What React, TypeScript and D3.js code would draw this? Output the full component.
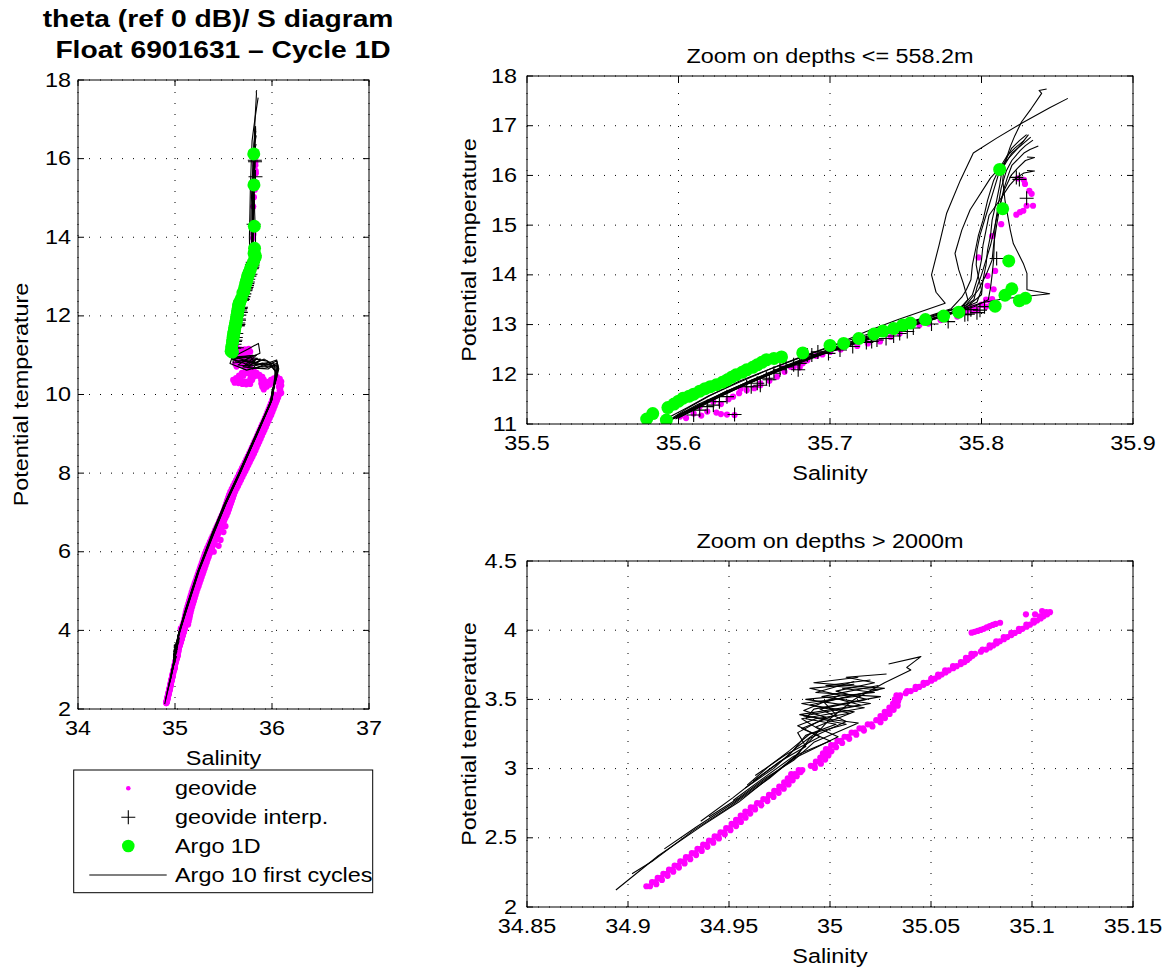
import React from 'react';
import * as d3 from 'd3';

type P = [number, number]; // [salinity, potential temperature]

// ---------- Argo 1D (green) ----------
const argo1D: P[] = [
  [35.579,11.10],[35.583,11.21],[35.592,11.08],[35.593,11.33],[35.597,11.40],[35.600,11.46],[35.603,11.52],[35.607,11.56],
  [35.610,11.60],[35.614,11.66],[35.6175,11.71],[35.621,11.75],[35.625,11.79],[35.629,11.84],[35.632,11.885],[35.635,11.94],
  [35.638,11.99],[35.642,12.04],[35.645,12.09],[35.649,12.14],[35.652,12.19],[35.655,12.24],[35.658,12.29],[35.663,12.32],
  [35.668,12.35],[35.682,12.43],[35.700,12.58],[35.709,12.62],[35.719,12.72],[35.729,12.81],[35.735,12.87],[35.742,12.92],
  [35.748,12.99],[35.753,13.03],[35.763,13.10],[35.775,13.17],[35.785,13.25],[35.809,13.37],[35.8155,13.59],[35.820,13.72],
  [35.825,13.48],[35.829,13.53],[35.818,14.28],[35.814,15.33],[35.812,16.12]
];

// ---------- geovide (magenta) ----------
const geovideShallow: P[] = [
  [35.601,11.15],[35.605,11.12],[35.610,11.21],[35.615,11.17],[35.619,11.25],[35.625,11.23],[35.628,11.20],[35.632,11.19],
  [35.637,11.18],[35.614,11.35],[35.623,11.45],[35.628,11.40],[35.633,11.50],[35.636,11.55],[35.640,11.62],[35.641,11.71],
  [35.645,11.68],[35.650,11.72],[35.654,11.78],[35.654,11.82],[35.660,11.87],[35.665,11.95],[35.670,12.05],[35.669,12.12],
  [35.674,12.15],[35.676,12.15],[35.680,12.14],[35.682,12.22],[35.685,12.28],[35.691,12.37],[35.695,12.40],[35.700,12.45],
  [35.707,12.50],[35.718,12.57],[35.725,12.62],[35.733,12.66],[35.740,12.75],[35.746,12.82],[35.759,12.99],[35.765,13.02],
  [35.773,13.09],[35.784,13.16],[35.790,13.25],[35.789,13.30],[35.792,13.31],[35.795,13.28],[35.795,13.34],[35.797,13.29],
  [35.800,13.40],[35.803,13.36],[35.806,13.45],[35.810,13.40],[35.803,13.50],[35.807,13.51],[35.808,13.71],[35.804,13.78],
  [35.804,13.98],[35.809,14.08],[35.798,14.35],[35.807,14.78],[35.813,15.02],[35.823,15.21],[35.8254,15.26],[35.8276,15.29],
  [35.8298,15.39],[35.834,15.39],[35.8331,15.63],[35.8316,15.69],[35.8287,15.83],[35.828,15.91],[35.824,15.94]
];

const geovideZigzagA: P[] = [
  [35.60,11.12],[35.64,11.13],[35.68,11.14],[35.72,11.15],[35.76,11.16],[35.73,11.06],[35.69,10.99],[35.66,10.92],
  [35.64,10.84],[35.62,10.78],[35.67,10.82],[35.71,10.85],[35.76,10.88],[35.78,10.93],[35.76,10.78],[35.74,10.70],
  [35.73,10.62],[35.69,10.55],[35.66,10.48],[35.63,10.42],[35.60,10.37],[35.64,10.36],[35.68,10.34],[35.72,10.33],
  [35.76,10.34],[35.78,10.44],[35.80,10.53],[35.81,10.62],[35.84,10.55],[35.87,10.50],[35.90,10.45],[35.89,10.36],
  [35.89,10.28],[35.90,10.20],[35.93,10.27],[35.96,10.32],[35.99,10.37],[36.02,10.41],[36.05,10.45],[36.08,10.40],
  [36.08,10.30],[36.07,10.20],[36.08,10.11]
];
const geovideZigzagB: P[] = [
  [35.615,11.05],[35.655,11.06],[35.695,11.07],[35.735,11.08],[35.775,11.09],[35.745,10.99],[35.705,10.92],[35.675,10.85],
  [35.655,10.77],[35.635,10.71],[35.685,10.75],[35.725,10.78],[35.775,10.81],[35.795,10.86],[35.775,10.71],[35.755,10.63],
  [35.745,10.55],[35.705,10.48],[35.675,10.41],[35.645,10.35],[35.615,10.30],[35.655,10.29],[35.695,10.27],[35.735,10.26],
  [35.775,10.27],[35.795,10.37],[35.815,10.46],[35.825,10.55],[35.855,10.48],[35.885,10.43],[35.915,10.38],[35.905,10.29],
  [35.905,10.21],[35.915,10.13],[35.945,10.20],[35.975,10.25],[36.005,10.30],[36.035,10.34],[36.065,10.38],[36.095,10.33],
  [36.095,10.23],[36.085,10.13],[36.095,10.04]
];

const geovideBandLeft: P[] = [
  [35.085,4.15],[35.098,4.30],[35.111,4.45],[35.127,4.60],[35.145,4.75],[35.163,4.90],[35.182,5.05],[35.203,5.20],
  [35.224,5.35],[35.245,5.50],[35.266,5.65],[35.287,5.80],[35.308,5.95],[35.333,6.10],[35.360,6.25],[35.387,6.40],
  [35.414,6.55],[35.441,6.70],[35.468,6.85],[35.495,7.00],[35.516,7.15],[35.537,7.30],[35.558,7.45],[35.585,7.60],
  [35.615,7.75],[35.645,7.90],[35.675,8.05],[35.705,8.20],[35.735,8.35],[35.765,8.50],[35.792,8.65],[35.819,8.80],
  [35.846,8.95],[35.873,9.10],[35.900,9.25],[35.927,9.40],[35.953,9.55],[35.977,9.70],[36.001,9.85],[36.025,10.00]
];
const geovideBandLeft2: P[] = [
  [35.091,4.225],[35.104,4.375],[35.118,4.525],[35.136,4.675],[35.154,4.825],[35.172,4.975],[35.193,5.125],[35.214,5.275],
  [35.235,5.425],[35.256,5.575],[35.277,5.725],[35.298,5.875],[35.320,6.025],[35.347,6.175],[35.374,6.325],[35.401,6.475],
  [35.428,6.625],[35.455,6.775],[35.482,6.925],[35.506,7.075],[35.527,7.225],[35.548,7.375],[35.570,7.525],[35.600,7.675],
  [35.630,7.825],[35.660,7.975],[35.690,8.125],[35.720,8.275],[35.750,8.425],[35.779,8.575],[35.806,8.725],[35.833,8.875],
  [35.860,9.025],[35.887,9.175],[35.914,9.325],[35.941,9.475],[35.965,9.625],[35.989,9.775],[36.013,9.925]
];
const geovideBandRight: P[] = [
  [35.141,4.225],[35.154,4.375],[35.168,4.525],[35.186,4.675],[35.204,4.825],[35.222,4.975],[35.243,5.125],[35.264,5.275],
  [35.285,5.425],[35.306,5.575],[35.327,5.725],[35.348,5.875],[35.370,6.025],[35.397,6.175],[35.424,6.325],[35.451,6.475],
  [35.478,6.625],[35.505,6.775],[35.532,6.925],[35.556,7.075],[35.577,7.225],[35.598,7.375],[35.620,7.525],[35.650,7.675],
  [35.680,7.825],[35.710,7.975],[35.740,8.125],[35.770,8.275],[35.800,8.425],[35.829,8.575],[35.856,8.725],[35.883,8.875],
  [35.910,9.025],[35.937,9.175],[35.964,9.325],[35.991,9.475],[36.015,9.625],[36.039,9.775],[36.063,9.925],[36.080,10.07]
];
const geovideBandRight2: P[] = [
  [35.135,4.15],[35.148,4.30],[35.161,4.45],[35.177,4.60],[35.195,4.75],[35.213,4.90],[35.232,5.05],[35.253,5.20],
  [35.274,5.35],[35.295,5.50],[35.316,5.65],[35.337,5.80],[35.358,5.95],[35.383,6.10],[35.410,6.25],[35.437,6.40],
  [35.464,6.55],[35.491,6.70],[35.518,6.85],[35.545,7.00],[35.566,7.15],[35.587,7.30],[35.608,7.45],[35.635,7.60],
  [35.665,7.75],[35.695,7.90],[35.725,8.05],[35.755,8.20],[35.785,8.35],[35.815,8.50],[35.842,8.65],[35.869,8.80],
  [35.896,8.95],[35.923,9.10],[35.950,9.25],[35.977,9.40],[36.003,9.55],[36.027,9.70],[36.051,9.85],[36.075,10.00]
];
const geovideBandExtra: P[] = [
  [35.400,6.00],[35.450,6.15],[35.470,6.30],[35.500,6.50],[35.520,6.65],[35.490,6.72],
  [35.070,3.95],[35.060,4.05],[35.080,4.15],[35.100,4.22],[35.120,4.25]
];

const geovideDeepA: P[] = [
  [34.9091,2.15],[34.9119,2.18],[34.9147,2.21],[34.9175,2.24],[34.9203,2.27],[34.9231,2.30],[34.9259,2.33],[34.9287,2.36],
  [34.9316,2.39],[34.9344,2.42],[34.9372,2.45],[34.9401,2.48],[34.9429,2.51],[34.9458,2.54],[34.9486,2.57],[34.9513,2.60],
  [34.9535,2.63],[34.9558,2.66],[34.9581,2.69],[34.9608,2.72],[34.9639,2.75],[34.9670,2.78],[34.9698,2.81],[34.9724,2.84],
  [34.9749,2.87],[34.9773,2.90],[34.9791,2.93],[34.9808,2.96],[34.9845,2.99],[34.9905,3.02],[34.9930,3.05],[34.9952,3.08],
  [34.9965,3.11],[34.9980,3.14],[35.0006,3.17],[35.0037,3.20],[35.0072,3.23],[35.0107,3.26],[35.0146,3.29],[35.0187,3.32],
  [35.0229,3.35],[35.0250,3.38],[35.0271,3.41],[35.0294,3.44],[35.0312,3.47],[35.0321,3.50],[35.0329,3.53],[35.0382,3.56],
  [35.0424,3.59],[35.0463,3.62],[35.0501,3.65],[35.0535,3.68],[35.0570,3.71],[35.0609,3.74],[35.0648,3.77],[35.0673,3.80],
  [35.0700,3.83],[35.0755,3.86],[35.0790,3.89],[35.0823,3.92],[35.0860,3.95],[35.0897,3.98],[35.0935,4.01],[35.0972,4.04],
  [35.1007,4.07],[35.1039,4.10],[35.1071,4.13]
];
const geovideDeepD: P[] = [
  [34.9109,2.15],[34.9137,2.18],[34.9165,2.21],[34.9193,2.24],[34.9221,2.27],[34.9249,2.30],[34.9277,2.33],[34.9305,2.36],
  [34.9334,2.39],[34.9362,2.42],[34.9390,2.45],[34.9419,2.48],[34.9447,2.51],[34.9476,2.54],[34.9504,2.57],[34.9531,2.60],
  [34.9553,2.63],[34.9576,2.66],[34.9599,2.69],[34.9626,2.72],[34.9657,2.75],[34.9688,2.78],[34.9716,2.81],[34.9742,2.84],
  [34.9767,2.87],[34.9791,2.90],[34.9809,2.93],[34.9826,2.96],[34.9863,2.99],[34.9923,3.02],[34.9948,3.05],[34.9970,3.08],
  [34.9983,3.11],[34.9998,3.14],[35.0024,3.17],[35.0055,3.20],[35.0090,3.23],[35.0125,3.26],[35.0164,3.29],[35.0205,3.32],
  [35.0247,3.35],[35.0268,3.38],[35.0289,3.41],[35.0312,3.44],[35.0330,3.47],[35.0339,3.50],[35.0347,3.53],[35.0400,3.56],
  [35.0442,3.59],[35.0481,3.62],[35.0519,3.65],[35.0553,3.68],[35.0588,3.71],[35.0627,3.74],[35.0666,3.77],[35.0691,3.80],
  [35.0718,3.83],[35.0773,3.86],[35.0808,3.89],[35.0841,3.92],[35.0878,3.95],[35.0915,3.98],[35.0953,4.01],[35.0990,4.04],
  [35.1025,4.07],[35.1057,4.10],[35.1089,4.13]
];
const geovideDeepB: P[] = [
  [34.9140,2.165],[34.9168,2.195],[34.9196,2.225],[34.9224,2.255],[34.9252,2.285],[34.9280,2.315],[34.9308,2.345],[34.9337,2.375],
  [34.9365,2.405],[34.9393,2.435],[34.9422,2.465],[34.9450,2.495],[34.9479,2.525],[34.9507,2.555],[34.9535,2.585],[34.9559,2.615],
  [34.9582,2.645],[34.9605,2.675],[34.9629,2.705],[34.9660,2.735],[34.9690,2.765],[34.9720,2.795],[34.9746,2.825],[34.9771,2.855],
  [34.9795,2.885],[34.9815,2.915],[34.9835,2.945],[34.9855,2.975],[34.9925,3.005],[34.9955,3.035],[34.9976,3.065],[34.9992,3.095],
  [35.0007,3.125],[35.0030,3.155],[35.0060,3.185],[35.0095,3.215],[35.0130,3.245],[35.0168,3.275],[35.0210,3.305],[35.0250,3.335],
  [35.0272,3.365],[35.0295,3.395],[35.0315,3.425],[35.0335,3.455]
];
const geovideDeepC: P[] = [
  [35.0337,3.485],[35.0345,3.515],[35.0375,3.545],[35.0423,3.575],[35.0463,3.605],[35.0502,3.635],[35.0538,3.665],[35.0572,3.695],
  [35.0610,3.725],[35.0648,3.755],[35.0680,3.785],[35.0706,3.815],[35.0747,3.845],[35.0792,3.875],[35.0826,3.905],[35.0861,3.935],
  [35.0898,3.965],[35.0936,3.995],[35.0973,4.025],[35.1010,4.055],[35.1043,4.085],[35.1075,4.115]
];
const geovideDeepFragments: P[] = [
  [35.0701,3.982],[35.0716,3.988],[35.0731,3.995],[35.0746,4.002],[35.0761,4.010],[35.0776,4.020],[35.0791,4.030],
  [35.0806,4.038],[35.0820,4.045],[35.0842,4.054],[35.0970,4.115],[35.1015,4.115],[35.1050,4.138]
];

// ---------- geovide interp. (black +) ----------
const geovideInterp: P[] = [
  [35.610,11.18],[35.614,11.28],[35.619,11.35],[35.623,11.38],[35.627,11.45],[35.632,11.55],[35.637,11.19],[35.645,11.75],
  [35.648,11.75],[35.652,11.82],[35.654,11.78],[35.658,11.92],[35.660,11.89],[35.663,12.02],[35.667,12.09],[35.671,12.15],
  [35.676,12.19],[35.679,12.09],[35.680,12.22],[35.685,12.39],[35.688,12.39],[35.692,12.45],[35.699,12.42],[35.7066,12.49],
  [35.715,12.56],[35.724,12.64],[35.7275,12.66],[35.731,12.69],[35.737,12.72],[35.742,12.77],[35.746,12.82],[35.751,12.86],
  [35.755,12.93],[35.767,13.01],[35.778,13.06],[35.789,13.20],[35.791,13.21],[35.793,13.30],[35.797,13.24],[35.799,13.29],
  [35.802,13.36],[35.810,14.33],[35.8298,15.54],[35.823,15.96],[35.825,15.92]
];

// ---------- Argo 10 first cycles (black lines) ----------
const cycleShallow: P[][] = [
  [[35.857,17.55],[35.845,17.36],[35.8265,17.05],[35.81,16.75],[35.7946,16.45],[35.786,15.9],[35.777,15.24],[35.772,14.6],[35.767,14.0],[35.770,13.65],[35.776,13.43],[35.745,13.1],[35.724,12.86],[35.70,12.55],[35.68,12.33],[35.66,12.1],[35.64,11.86],[35.62,11.56],[35.605,11.3],[35.596,11.12]],
  [[35.843,17.74],[35.838,17.71],[35.8397,17.65],[35.833,17.35],[35.8265,17.08],[35.822,16.8],[35.819,16.58],[35.816,16.3],[35.8135,16.1],[35.812,15.8],[35.81,15.5],[35.807,15.1],[35.806,14.8],[35.804,14.5],[35.803,14.2],[35.801,13.9],[35.80,13.6],[35.79,13.35],[35.77,13.12],[35.75,12.94],[35.73,12.76],[35.71,12.55],[35.69,12.36],[35.67,12.13],[35.65,11.9],[35.63,11.64],[35.615,11.4],[35.60,11.18]],
  [[35.831,16.82],[35.826,16.62],[35.8225,16.5],[35.815,16.25],[35.806,15.95],[35.7925,15.31],[35.787,14.9],[35.7825,14.43],[35.785,14.1],[35.788,13.83],[35.791,13.5],[35.785,13.3],[35.765,13.08],[35.745,12.9],[35.725,12.72],[35.705,12.52],[35.685,12.32],[35.665,12.08],[35.645,11.82],[35.625,11.55],[35.61,11.3],[35.598,11.1]],
  [[35.8325,16.77],[35.826,16.6],[35.82,16.45],[35.815,16.2],[35.814,15.9],[35.8155,15.5],[35.819,14.9],[35.821,14.63],[35.8276,14.23],[35.830,14.03],[35.830,13.70],[35.845,13.62],[35.815,13.52],[35.80,13.44],[35.78,13.22],[35.76,13.04],[35.74,12.86],[35.72,12.67],[35.70,12.47],[35.68,12.25],[35.66,12.0],[35.64,11.75],[35.62,11.48],[35.605,11.25],[35.595,11.08]],
  [[35.834,16.71],[35.829,16.6],[35.8255,16.5],[35.82,16.3],[35.8165,16.1],[35.813,15.75],[35.811,15.4],[35.809,15.0],[35.8085,14.7],[35.808,14.3],[35.807,14.0],[35.806,13.75],[35.8045,13.5],[35.795,13.36],[35.775,13.17],[35.755,12.98],[35.735,12.79],[35.715,12.6],[35.695,12.4],[35.675,12.17],[35.655,11.93],[35.635,11.67],[35.618,11.42],[35.603,11.18]],
  [[35.8375,16.59],[35.832,16.52],[35.828,16.45],[35.82,16.2],[35.817,15.95],[35.8145,15.7],[35.812,15.35],[35.81,15.0],[35.808,14.6],[35.807,14.3],[35.803,14.0],[35.798,13.7],[35.79,13.4],[35.772,13.2],[35.752,13.0],[35.732,12.82],[35.712,12.62],[35.692,12.41],[35.672,12.18],[35.652,11.93],[35.632,11.66],[35.612,11.38],[35.598,11.15]],
  [[35.830,16.37],[35.835,16.36],[35.829,16.3],[35.824,16.15],[35.8195,16.0],[35.815,15.7],[35.812,15.4],[35.809,15.0],[35.806,14.6],[35.803,14.3],[35.800,14.0],[35.797,13.75],[35.795,13.5],[35.785,13.28],[35.765,13.1],[35.745,12.92],[35.725,12.73],[35.705,12.53],[35.685,12.3],[35.665,12.05],[35.645,11.8],[35.628,11.56],[35.613,11.32],[35.6,11.12]],
  [[35.830,16.1],[35.835,16.09],[35.828,16.05],[35.823,15.95],[35.8185,15.8],[35.812,15.5],[35.805,15.2],[35.803,14.9],[35.801,14.6],[35.8,14.3],[35.798,14.0],[35.796,13.8],[35.794,13.6],[35.788,13.38],[35.768,13.18],[35.748,12.99],[35.728,12.8],[35.708,12.6],[35.688,12.38],[35.668,12.14],[35.648,11.88],[35.628,11.6],[35.612,11.34],[35.597,11.12]],
  [[35.8298,16.82],[35.825,16.7],[35.82,16.55],[35.815,16.25],[35.811,16.0],[35.807,15.6],[35.804,15.3],[35.799,14.8],[35.797,14.5],[35.7965,14.2],[35.798,13.95],[35.8,13.7],[35.797,13.45],[35.782,13.26],[35.762,13.07],[35.742,12.88],[35.722,12.7],[35.702,12.49],[35.682,12.27],[35.662,12.02],[35.642,11.76],[35.622,11.48],[35.607,11.24],[35.593,11.06]],
  [[35.828,16.7],[35.822,16.55],[35.817,16.4],[35.812,16.15],[35.808,15.9],[35.804,15.5],[35.801,15.1],[35.798,14.8],[35.796,14.5],[35.794,14.2],[35.793,13.9],[35.79,13.7],[35.787,13.55],[35.78,13.32],[35.76,13.12],[35.74,12.94],[35.72,12.76],[35.70,12.56],[35.68,12.34],[35.66,12.1],[35.64,11.84],[35.62,11.57],[35.606,11.33],[35.594,11.14]]
];

const cycleZigzag: P[][] = [
  [[35.60,10.96],[35.75,11.15],[35.86,11.30],[35.876,11.05],[35.70,10.85],[35.82,10.78],[35.95,10.75],[36.05,10.85],[36.07,10.65],[36.04,10.35],[36.01,10.1]],
  [[35.62,10.92],[35.80,11.0],[35.65,10.75],[35.78,10.72],[35.90,10.80],[36.04,10.7],[36.05,10.45],[36.02,10.2]],
  [[35.58,10.88],[35.567,10.79],[35.739,10.62],[35.86,10.7],[35.945,10.79],[36.048,10.88],[36.065,10.67],[36.04,10.4],[36.013,10.11]],
  [[35.63,10.95],[35.85,10.92],[35.72,10.72],[35.88,10.78],[35.98,10.82],[36.03,10.6],[36.03,10.3],[36.0,10.05]],
  [[35.61,10.9],[35.78,10.96],[35.84,10.74],[35.90,10.7],[36.06,10.75],[36.04,10.45],[36.02,10.2]],
  [[35.60,10.8],[35.83,10.86],[35.75,10.68],[35.92,10.66],[35.99,10.72],[36.05,10.55],[36.03,10.3],[36.0,10.1]],
  [[35.62,10.85],[35.88,10.9],[35.80,10.65],[35.93,10.74],[36.02,10.8],[36.04,10.5],[36.03,10.3]],
  [[35.61,10.95],[35.82,10.8],[35.88,10.88],[35.95,10.85],[36.04,10.6],[36.02,10.3],[36.0,10.0]],
  [[35.59,10.9],[35.76,10.75],[35.85,10.82],[35.92,10.9],[36.06,10.7],[36.04,10.4],[36.01,10.15]],
  [[35.60,10.95],[35.84,11.0],[35.70,10.7],[35.87,10.66],[35.96,10.65],[36.05,10.8],[36.05,10.5],[36.02,10.2]]
];

const cycleMid: P[][] = [
  [[35.99,9.8],[35.86,9.05],[35.67,8.0],[35.52,7.2],[35.40,6.5],[35.25,5.55],[35.12,4.55],[35.045,3.95]],
  [[36.0,9.9],[35.84,9.0],[35.66,7.98],[35.51,7.2],[35.39,6.48],[35.24,5.5],[35.11,4.5],[35.04,3.9]],
  [[35.99,9.85],[35.85,9.02],[35.68,8.04],[35.53,7.25],[35.41,6.52],[35.25,5.52],[35.12,4.52],[35.035,3.88]],
  [[35.98,9.75],[35.83,8.96],[35.65,7.96],[35.50,7.17],[35.38,6.45],[35.23,5.47],[35.10,4.47],[35.03,3.85]],
  [[36.0,9.88],[35.85,9.03],[35.67,8.02],[35.52,7.22],[35.40,6.5],[35.24,5.5],[35.115,4.52],[35.04,3.92]],
  [[35.99,9.82],[35.84,9.0],[35.66,8.0],[35.51,7.19],[35.39,6.47],[35.235,5.48],[35.105,4.48],[35.035,3.9]],
  [[36.0,9.86],[35.855,9.04],[35.675,8.03],[35.525,7.23],[35.405,6.51],[35.245,5.51],[35.115,4.5],[35.04,3.87]],
  [[35.98,9.78],[35.835,8.98],[35.655,7.97],[35.505,7.18],[35.385,6.46],[35.235,5.49],[35.105,4.49],[35.03,3.86]],
  [[35.99,9.84],[35.845,9.01],[35.665,8.01],[35.515,7.21],[35.395,6.49],[35.245,5.53],[35.11,4.51],[35.035,3.89]],
  [[36.0,9.87],[35.85,9.02],[35.67,8.02],[35.52,7.21],[35.4,6.5],[35.24,5.51],[35.11,4.5],[35.04,3.91]]
];

const cycleDeep: P[][] = [
  [[35.029,3.756],[35.045,3.809],[35.038,3.731],[35.040,3.712],[35.027,3.62],[35.012,3.50],[35.0,3.36],[34.99,3.2],[34.982,3.08],[34.972,2.96],[34.955,2.76],[34.937,2.59],[34.915,2.37],[34.894,2.123]],
  [[35.028,3.684],[35.008,3.66],[35.022,3.62],[35.003,3.56],[35.018,3.50],[34.995,3.43],[35.008,3.34],[34.99,3.22],[34.984,3.10],[34.97,2.93],[34.95,2.72],[34.932,2.55],[34.912,2.33],[34.902,2.24]],
  [[35.02,3.64],[34.998,3.60],[35.024,3.57],[34.99,3.46],[35.012,3.41],[34.993,3.30],[35.004,3.23],[34.983,3.08],[34.968,2.92],[34.953,2.76],[34.934,2.58],[34.918,2.42]],
  [[35.012,3.63],[34.993,3.55],[35.025,3.52],[34.992,3.43],[34.988,3.36],[35.003,3.32],[34.988,3.24],[34.98,3.10],[34.966,2.95],[34.952,2.79],[34.936,2.62]],
  [[35.024,3.60],[34.996,3.52],[35.02,3.47],[34.987,3.38],[35.014,3.33],[34.992,3.19],[34.982,3.06],[34.968,2.93],[34.955,2.79],[34.94,2.65]],
  [[35.014,3.66],[34.992,3.62],[35.027,3.58],[34.997,3.48],[35.003,3.39],[34.986,3.29],[35.0,3.20],[34.982,3.09],[34.966,2.92],[34.952,2.77]],
  [[35.006,3.58],[35.022,3.55],[34.988,3.50],[35.017,3.44],[34.986,3.36],[34.995,3.28],[34.984,3.16],[34.972,3.0],[34.958,2.86]],
  [[35.017,3.53],[34.986,3.47],[35.01,3.40],[34.993,3.36],[34.984,3.31],[34.995,3.23],[34.978,3.10],[34.963,2.95]],
  [[35.002,3.51],[35.015,3.46],[34.985,3.39],[35.008,3.32],[34.99,3.25],[34.98,3.13],[34.97,3.02],[34.959,2.88]],
  [[35.012,3.61],[34.99,3.58],[35.005,3.53],[34.987,3.42],[34.998,3.37],[34.984,3.26],[34.988,3.16],[34.975,3.05],[34.962,2.91]]
];

// ---------- axes ticks ----------
const leftXTicks = [34, 35, 36, 37];
const leftYTicks = [2, 4, 6, 8, 10, 12, 14, 16, 18];
const topXTicks = [35.5, 35.6, 35.7, 35.8, 35.9];
const topYTicks = [11, 12, 13, 14, 15, 16, 17, 18];
const botXTicks = [34.85, 34.9, 34.95, 35, 35.05, 35.1, 35.15];
const botYTicks = [2, 2.5, 3, 3.5, 4, 4.5];

const legendLabels = ['geovide', 'geovide interp.', 'Argo 1D', 'Argo 10 first cycles'];

const FONT = "'Liberation Sans', Arial, Helvetica, sans-serif";
const MAGENTA = '#ff00ff';
const GREEN = '#00ff00';
const MAG_R = 3.1;

function T(props: { x: number; y: number; s?: number; a?: string; w?: string; r?: number; children: React.ReactNode }) {
  const { x, y, s = 19.5, a = 'middle', w = 'normal', r = 0, children } = props;
  const tr = `translate(${x},${y})` + (r ? ` rotate(${r})` : '') + ' scale(1.2,1)';
  return (
    <text transform={tr} fontSize={s} textAnchor={a as any} fontWeight={w} fontFamily={FONT} fill="#000">
      {children}
    </text>
  );
}

const fmt = (v: number) => String(+v.toFixed(3));

type Scales = { x: d3.ScaleLinear<number, number>; y: d3.ScaleLinear<number, number> };

function Dots({ data, sc, r, fill }: { data: P[]; sc: Scales; r: number; fill: string }) {
  return (
    <g>
      {data.map((d, i) => (
        <circle key={i} cx={sc.x(d[0])} cy={sc.y(d[1])} r={r} fill={fill} />
      ))}
    </g>
  );
}

function Crosses({ data, sc }: { data: P[]; sc: Scales }) {
  const h = 7;
  return (
    <g stroke="#000" strokeWidth={1.1}>
      {data.map((d, i) => {
        const cx = sc.x(d[0]);
        const cy = sc.y(d[1]);
        return <path key={i} d={`M${cx - h},${cy}H${cx + h}M${cx},${cy - h}V${cy + h}`} fill="none" />;
      })}
    </g>
  );
}

function Lines({ data, sc }: { data: P[][]; sc: Scales }) {
  const line = d3.line<P>().x((d) => sc.x(d[0])).y((d) => sc.y(d[1]));
  return (
    <g fill="none" stroke="#000" strokeWidth={1.1} strokeLinejoin="round">
      {data.map((c, i) => (
        <path key={i} d={line(c) || ''} />
      ))}
    </g>
  );
}

function Panel(props: {
  id: string;
  x0: number; x1: number; y0: number; y1: number;
  xd: [number, number]; yd: [number, number];
  xt: number[]; yt: number[];
  title?: string;
  ylabGap: number;
  ylabX: number;
  render: (sc: Scales) => React.ReactNode;
}) {
  const { id, x0, x1, y0, y1, xd, yd, xt, yt, title, render, ylabGap, ylabX } = props;
  const x = d3.scaleLinear().domain(xd).range([x0, x1]);
  const y = d3.scaleLinear().domain(yd).range([y1, y0]);
  const sc = { x, y };
  const tl = 6;
  return (
    <g>
      <defs>
        <clipPath id={id}>
          <rect x={x0} y={y0} width={x1 - x0} height={y1 - y0} />
        </clipPath>
      </defs>
      <rect x={x0} y={y0} width={x1 - x0} height={y1 - y0} fill="#fff" />
      <g stroke="#000" strokeWidth={1} strokeDasharray="1,10">
        {xt.map((t, i) => (
          <line key={'gx' + i} x1={x(t)} x2={x(t)} y1={y1} y2={y0} />
        ))}
        {yt.map((t, i) => (
          <line key={'gy' + i} x1={x0} x2={x1} y1={y(t)} y2={y(t)} />
        ))}
      </g>
      <g clipPath={`url(#${id})`}>{render(sc)}</g>
      <rect x={x0} y={y0} width={x1 - x0} height={y1 - y0} fill="none" stroke="#000" strokeWidth={1} />
      <g stroke="#000" strokeWidth={1}>
        {xt.map((t, i) => (
          <path key={'tx' + i} d={`M${x(t)},${y1}V${y1 - tl}M${x(t)},${y0}V${y0 + tl}`} />
        ))}
        {yt.map((t, i) => (
          <path key={'ty' + i} d={`M${x0},${y(t)}H${x0 + tl}M${x1},${y(t)}H${x1 - tl}`} />
        ))}
      </g>
      {xt.map((t, i) => (
        <T key={'lx' + i} x={x(t)} y={y1 + 26}>{fmt(t)}</T>
      ))}
      {yt.map((t, i) => (
        <T key={'ly' + i} x={x0 - ylabGap} y={y(t) + 6.5} a="end">{fmt(t)}</T>
      ))}
      <T x={(x0 + x1) / 2} y={y1 + 56}>Salinity</T>
      <T x={ylabX} y={(y0 + y1) / 2} r={-90}>Potential temperature</T>
      {title ? <T x={(x0 + x1) / 2} y={y0 - 13}>{title}</T> : null}
    </g>
  );
}

export default function App() {
  const fullCycles: P[][] = cycleShallow.map((c, i) => [...c, ...cycleZigzag[i], ...cycleMid[i], ...cycleDeep[i]]);
  const deepMagenta: P[] = [...geovideDeepA, ...geovideDeepD, ...geovideDeepB, ...geovideDeepC, ...geovideDeepFragments];
  const leftMagenta: P[] = [
    ...geovideShallow, ...geovideZigzagA, ...geovideZigzagB, ...geovideBandLeft, ...geovideBandLeft2,
    ...geovideBandRight, ...geovideBandRight2, ...geovideBandExtra, ...deepMagenta
  ];
  const lx = 128.3;
  const ly = [788.3, 817.3, 846, 875];
  return (
    <svg width={1167} height={975} style={{ display: 'block', position: 'absolute', left: 0, top: 0, background: '#fff' }}>
      <rect x={0} y={0} width={1167} height={975} fill="#fff" />
      <T x={218} y={27} s={23.5} w="bold">theta (ref 0 dB)/ S diagram</T>
      <T x={223} y={58} s={23.5} w="bold">{'Float 6901631 \u2013 Cycle 1D'}</T>

      <Panel
        id="cl" x0={78} x1={369} y0={80} y1={709} xd={[34, 37]} yd={[2, 18]} xt={leftXTicks} yt={leftYTicks}
        ylabGap={7} ylabX={28}
        render={(sc) => (
          <g>
            <Dots data={leftMagenta} sc={sc} r={MAG_R} fill={MAGENTA} />
            <Crosses data={geovideInterp} sc={sc} />
            <Lines data={fullCycles} sc={sc} />
            <Dots data={argo1D} sc={sc} r={6.5} fill={GREEN} />
          </g>
        )}
      />
      <Panel
        id="ctr" x0={527} x1={1133} y0={76} y1={424} xd={[35.5, 35.9]} yd={[11, 18]} xt={topXTicks} yt={topYTicks}
        title="Zoom on depths <= 558.2m" ylabGap={10} ylabX={476}
        render={(sc) => (
          <g>
            <Dots data={geovideShallow} sc={sc} r={MAG_R} fill={MAGENTA} />
            <Crosses data={geovideInterp} sc={sc} />
            <Lines data={cycleShallow} sc={sc} />
            <Dots data={argo1D} sc={sc} r={6.5} fill={GREEN} />
          </g>
        )}
      />
      <Panel
        id="cbr" x0={527} x1={1133} y0={561} y1={907} xd={[34.85, 35.15]} yd={[2, 4.5]} xt={botXTicks} yt={botYTicks}
        title="Zoom on depths > 2000m" ylabGap={10} ylabX={476}
        render={(sc) => (
          <g>
            <Dots data={deepMagenta} sc={sc} r={MAG_R} fill={MAGENTA} />
            <Lines data={cycleDeep} sc={sc} />
          </g>
        )}
      />

      {/* legend */}
      <rect x={73.7} y={770} width={299} height={122.7} fill="#fff" stroke="#000" strokeWidth={1} />
      <circle cx={lx} cy={ly[0]} r={2.3} fill={MAGENTA} />
      <path d={`M${lx - 7},${ly[1]}H${lx + 7}M${lx},${ly[1] - 7}V${ly[1] + 7}`} stroke="#000" strokeWidth={1.1} />
      <circle cx={lx} cy={ly[2]} r={6.3} fill={GREEN} />
      <line x1={89.3} x2={166.7} y1={ly[3]} y2={ly[3]} stroke="#000" strokeWidth={1.1} />
      {legendLabels.map((l, i) => (
        <T key={i} x={175} y={ly[i] + 7} a="start">{l}</T>
      ))}
    </svg>
  );
}
